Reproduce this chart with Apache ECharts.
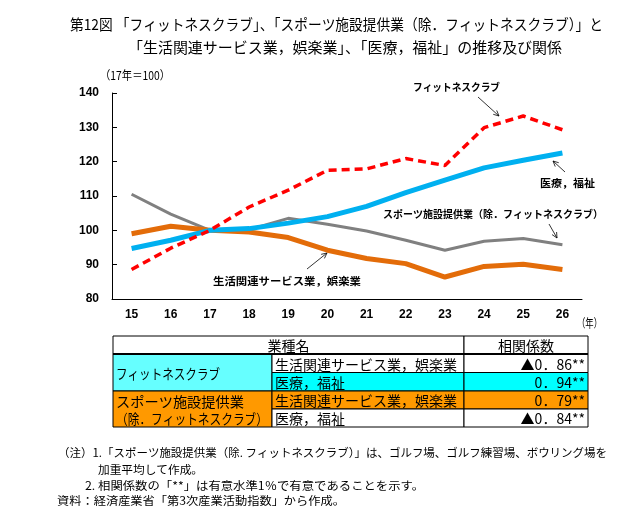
<!DOCTYPE html>
<html><head><meta charset="utf-8">
<script src="https://cdn.jsdelivr.net/npm/echarts@6/dist/echarts.min.js"></script>
<style>html,body{margin:0;padding:0;background:#fff}#c{width:633px;height:515px}</style>
</head><body><div id="c"></div>
<script>
var years = ['15','16','17','18','19','20','21','22','23','24','25','26'];
var fitness = [88.6, 94.8, 100, 106.8, 111.7, 117.5, 117.9, 120.9, 118.9, 129.9, 133.3, 129.3];
var medical = [94.7, 97.1, 100, 100.5, 102.1, 104.0, 107.0, 111.0, 114.6, 118.2, 120.4, 122.5];
var sports = [110.5, 104.7, 100, 100.2, 103.5, 101.8, 99.8, 97.1, 94.2, 96.8, 97.6, 95.8];
var lifestyle = [99.0, 101.2, 100, 99.5, 97.9, 94.2, 91.8, 90.3, 86.4, 89.5, 90.1, 88.6];

var tableHead = ['業種名', '相関係数'];
var tableGroups = ['フィットネスクラブ', 'スポーツ施設提供業', '（除．フィットネスクラブ）'];
var tableIndustries = ['生活関連サービス業，娯楽業', '医療，福祉', '生活関連サービス業，娯楽業', '医療，福祉'];
var tableCoefs = ['▲0．86**', '0．94**', '0．79**', '▲0．84**'];

var titleLines = ['第12図 「フィットネスクラブ」、「スポーツ施設提供業（除．フィットネスクラブ）」と', '「生活関連サービス業，娯楽業」、「医療，福祉」の推移及び関係'];
var notes = [
 '（注）1.「スポーツ施設提供業（除. フィットネスクラブ）」は、ゴルフ場、ゴルフ練習場、ボウリング場を',
 '加重平均して作成。',
 '2. 相関係数の「**」は有意水準1％で有意であることを示す。',
 '資料：経済産業省「第3次産業活動指数」から作成。'
];

var JP = '"Noto Sans CJK JP", sans-serif';
var chart = echarts.init(document.getElementById('c'));
var mctx = document.createElement('canvas').getContext('2d');

function arrow(x1, y1, x2, y2) {
  var a = Math.atan2(y2 - y1, x2 - x1), L = 6, s = 0.45;
  return {
    type: 'group', children: [
      {type: 'line', shape: {x1: x1, y1: y1, x2: x2, y2: y2}, style: {stroke: '#000', lineWidth: 0.8}},
      {type: 'polyline', shape: {points: [
        [x2 - L * Math.cos(a - s), y2 - L * Math.sin(a - s)], [x2, y2],
        [x2 - L * Math.cos(a + s), y2 - L * Math.sin(a + s)]]},
        style: {stroke: '#000', lineWidth: 0.8, fill: null}}
    ]
  };
}
function txt(x, y, t, o) {
  o = o || {};
  var font = (o.weight || 'normal') + ' ' + (o.size || 14) + 'px ' + (o.family || JP);
  var el = {type: 'text', x: x, y: y, style: {text: t, fill: '#000', font: font,
    textAlign: o.align || 'left', textVerticalAlign: 'middle'}};
  if (o.width) {
    mctx.font = font;
    var w = mctx.measureText(t).width;
    if (w > 0) el.scaleX = o.width / w;
  }
  return el;
}

var g = [];
g.push(txt(70, 24, titleLines[0], {size: 15, width: 533}));
g.push(txt(128, 47, titleLines[1], {size: 15, width: 434}));
g.push(txt(100, 75, '（17年＝100）', {size: 12, width: 70}));
g.push(txt(577, 323, '（年）', {size: 12, width: 25}));

// annotations
g.push(txt(413, 87, 'フィットネスクラブ', {size: 10.5, weight: 'bold', width: 87}));
g.push(arrow(478, 97, 499, 116));
g.push(txt(540, 183, '医療，福祉', {size: 10.5, weight: 'bold', width: 55}));
g.push(arrow(565, 172, 553, 161));
g.push(txt(383, 214, 'スポーツ施設提供業（除．フィットネスクラブ）', {size: 10.5, weight: 'bold', width: 220}));
g.push(arrow(549, 224, 557, 238));
g.push(txt(213, 281, '生活関連サービス業，娯楽業', {size: 10.5, weight: 'bold', width: 148}));
g.push(arrow(307, 269, 327, 253));

// table
var cx = [113, 272, 464, 588];
var ry = [336, 354, 372.5, 391, 409, 427];
function cell(x1, y1, x2, y2, fill) {
  return {type: 'rect', shape: {x: x1, y: y1, width: x2 - x1, height: y2 - y1}, style: {fill: fill, stroke: '#000', lineWidth: 1}};
}
g.push(cell(cx[0], ry[0], cx[2], ry[1], '#fff'));
g.push(cell(cx[2], ry[0], cx[3], ry[1], '#fff'));
g.push(cell(cx[0], ry[1], cx[1], ry[3], '#66FFFF'));
g.push(cell(cx[0], ry[3], cx[1], ry[5], '#FF9900'));
var rowFill = ['#fff', '#00FFFF', '#FF9900', '#fff'];
for (var i = 0; i < 4; i++) {
  g.push(cell(cx[1], ry[i + 1], cx[2], ry[i + 2], rowFill[i]));
  g.push(cell(cx[2], ry[i + 1], cx[3], ry[i + 2], rowFill[i]));
  g.push(txt(cx[1] + 3, (ry[i + 1] + ry[i + 2]) / 2 + 1, tableIndustries[i], {size: 14}));
  g.push(txt(cx[3] - 3, (ry[i + 1] + ry[i + 2]) / 2 + 1, tableCoefs[i], {size: 14, align: 'right'}));
}
g.push({type: 'line', shape: {x1: cx[0], y1: ry[1], x2: cx[3], y2: ry[1]}, style: {stroke: '#000', lineWidth: 2}});
g.push(txt((cx[0] + cx[2]) / 2, (ry[0] + ry[1]) / 2 + 1, tableHead[0], {size: 14, align: 'center'}));
g.push(txt((cx[2] + cx[3]) / 2, (ry[0] + ry[1]) / 2 + 1, tableHead[1], {size: 14, align: 'center'}));
g.push(txt(cx[0] + 3, (ry[1] + ry[3]) / 2 + 1, tableGroups[0], {size: 14, width: 104}));
g.push(txt(cx[0] + 3, 402, tableGroups[1], {size: 14, width: 128}));
g.push(txt(cx[0] + 3, 419, tableGroups[2], {size: 14, width: 152}));

// notes
g.push(txt(58, 453, notes[0], {size: 11.5, width: 549}));
g.push(txt(98, 470, notes[1], {size: 11.5, width: 105}));
g.push(txt(85, 485.5, notes[2], {size: 11.5, width: 339}));
g.push(txt(57, 501, notes[3], {size: 11.5, width: 288}));

var numFont = {fontFamily: '"Liberation Sans", Arial, sans-serif', fontWeight: 'bold', fontSize: 12, color: '#000'};

chart.setOption({
  animation: false,
  grid: {left: 112, right: 51, top: 93, bottom: 216},
  xAxis: {
    type: 'category', data: years, boundaryGap: true,
    axisLine: {lineStyle: {color: '#000', width: 1}},
    axisTick: {inside: true, length: 5, lineStyle: {color: '#000'}},
    axisLabel: Object.assign({margin: 10}, numFont)
  },
  yAxis: {
    type: 'value', min: 80, max: 140, interval: 10,
    axisLine: {show: true, lineStyle: {color: '#000', width: 1}},
    axisTick: {show: true, inside: true, length: 5, lineStyle: {color: '#000'}},
    splitLine: {show: false},
    axisLabel: Object.assign({margin: 13}, numFont)
  },
  series: [
    {name: 'スポーツ施設提供業（除．フィットネスクラブ）', type: 'line', data: sports, symbol: 'none', lineStyle: {color: '#808080', width: 3}},
    {name: '生活関連サービス業，娯楽業', type: 'line', data: lifestyle, symbol: 'none', lineStyle: {color: '#E36C09', width: 5}},
    {name: '医療，福祉', type: 'line', data: medical, symbol: 'none', lineStyle: {color: '#00B0F0', width: 5}},
    {name: 'フィットネスクラブ', type: 'line', data: fitness, symbol: 'none', lineStyle: {color: '#FF0000', width: 3.5, type: [8, 5]}}
  ],
  graphic: g
});
</script></body></html>
